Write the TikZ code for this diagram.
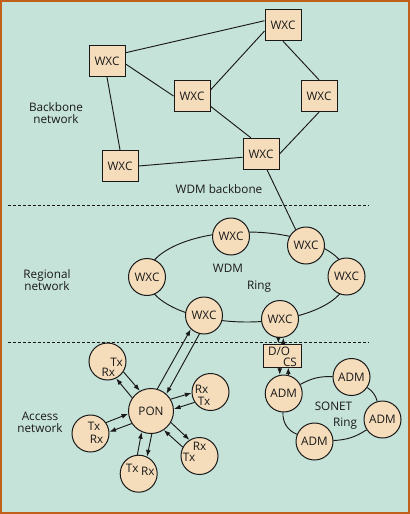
\documentclass[tikz,border=0pt]{standalone}
\usepackage{fontspec}
\setmainfont{Open Sans}
\usetikzlibrary{arrows.meta}
\definecolor{bgc}{RGB}{198,227,217}
\definecolor{nodefill}{RGB}{245,221,187}
\definecolor{framec}{RGB}{192,96,26}
\definecolor{ink}{RGB}{25,25,25}
\begin{document}
\begin{tikzpicture}[x=0.75pt,y=-0.75pt,
  every node/.style={font=\fontsize{8.8pt}{9pt}\selectfont, text=ink},
  wxcbox/.style={draw=ink, line width=0.75pt, fill=nodefill, rectangle, minimum width=27pt, minimum height=23.5pt, inner sep=0pt},
  nodeball/.style={draw=ink, line width=0.75pt, fill=nodefill, circle, minimum size=27.75pt, inner sep=0pt},
  ponball/.style={nodeball, minimum size=33.75pt},
  dobox/.style={draw=ink, line width=0.75pt, fill=nodefill, rectangle, minimum width=28.5pt, minimum height=17.25pt, inner sep=0pt},
  link/.style={draw=ink, line width=0.7pt},
  arr/.style={link, -{Latex[length=5pt,width=3.6pt]}},
  dashsep/.style={draw=ink, line width=0.7pt, dash pattern=on 2.2pt off 1.5pt},
  lbltext/.style={align=center, inner sep=0pt}
]
\useasboundingbox (0,0) rectangle (410,514);
\draw[fill=bgc, draw=framec, line width=1.5pt] (1,1) rectangle (409,513);

% separators
\draw[dashsep] (8,205) -- (369,205);
\draw[dashsep] (8,342) -- (369,342);

% WDM ring
\coordinate (wdmc) at (247,277);
\draw[link] (wdmc) ellipse [x radius=100, y radius=45];

% backbone
\node[wxcbox] (b1) at (107,61) {WXC};
\node[wxcbox] (b2) at (283,25) {WXC};
\node[wxcbox] (b3) at (192,96) {WXC};
\node[wxcbox] (b4) at (319,96) {WXC};
\node[wxcbox] (b5) at (120,166) {WXC};
\node[wxcbox] (b6) at (261,154) {WXC};

% regional
\node[nodeball] (r1) at (147,277) {WXC};
\node[nodeball] (r2) at (231,236.5) {WXC};
\node[nodeball] (r3) at (306,245.5) {WXC};
\node[nodeball] (r4) at (346.5,276.5) {WXC};
\node[nodeball] (r5) at (280,319) {WXC};
\node[nodeball] (r6) at (204,315.5) {WXC};

% access
\node[ponball] (pon) at (151,411) {PON};
\node[nodeball, label={[shift={(9,0.5)}]center:Tx}, label={[shift={(0.8,10.5)}]center:Rx}] (tl) at (107.5,361.5) {};
\node[nodeball, label={[shift={(3.5,-7.5)}]center:Tx}, label={[shift={(6,5.5)}]center:Rx}] (lf) at (90.5,433.5) {};
\node[nodeball, label={[shift={(-6.5,-5.5)}]center:Tx}, label={[shift={(9,-2.5)}]center:Rx}] (bt) at (138.7,473.7) {};
\node[nodeball, label={[shift={(-9,-3)}]center:Rx}, label={[shift={(-6.5,9)}]center:Tx}] (ru) at (210.5,392) {};
\node[nodeball, label={[shift={(0,-10)}]center:Rx}, label={[shift={(-10.5,1)}]center:Tx}] (rl) at (199.5,456) {};

% SONET
\node[dobox, label={[shift={(-3.5,-4)}]center:D/O}, label={[shift={(7.5,7)}]center:CS}] (do) at (282.5,355.5) {};
\node[nodeball] (a1) at (283.7,393.5) {ADM};
\node[nodeball] (a2) at (351.5,377) {ADM};
\node[nodeball] (a3) at (382.5,419.5) {ADM};
\node[nodeball] (a4) at (314.5,441.5) {ADM};

% labels
\node[lbltext] (t1) at (56,113) {Backbone\\network};
\node[lbltext] (t2) at (219,189) {WDM backbone};
\node[lbltext] (t3) at (47,280) {Regional\\network};
\node[lbltext] (t4) at (228,268) {WDM};
\node[lbltext] (t5) at (259,287) {Ring};
\node[lbltext] (t6) at (40,422) {Access\\network};
\node[lbltext] (t7) at (333.5,406) {SONET};
\node[lbltext] (t8) at (345,424) {Ring};

% backbone links
\draw[link] (b1.24) -- (b2.167);
\draw[link] (b1.351) -- (b3.west);
\draw[link] (b1.south) -- (b5.north);
\draw[link] (b2.198) -- (b3.18);
\draw[link] (b2.south) -- (b4.north);
\draw[link] (b3.331) -- (b6.122);
\draw[link] (b4.south) -- (b6.east);
\draw[link] (b5.east) -- (b6.190);
\draw[link] (b6.291) -- (r3.123);

% PON pairs
\draw[arr] (pon.145) -- (tl.297);
\draw[arr] (tl.327) -- (pon.119);
\draw[arr] (pon.213) -- (lf.5);
\draw[arr] (lf.35) -- (pon.187);
\draw[arr] (pon.272) -- (bt.64);
\draw[arr] (bt.94) -- (pon.246);
\draw[arr] (pon.31) -- (ru.183);
\draw[arr] (ru.213) -- (pon.5);
\draw[arr] (pon.330) -- (rl.122);
\draw[arr] (rl.152) -- (pon.304);
\draw[arr] (pon.74) -- (r6.226);
\draw[arr] (r6.256) -- (pon.48);

% D/O CS arrows
\draw[arr] (r5.265) -- (do.north -| r5.265);
\draw[arr] (do.north -| r5.280) -- (r5.280);
\draw[arr] (do.south -| a1.102) -- (a1.102);
\draw[arr] (a1.76) -- (do.south -| a1.76);

% SONET ring
\draw[link] (a1) to[bend left=15] (a2);
\draw[link] (a2) to[bend left=20] (a3);
\draw[link] (a3) to[bend left=15] (a4);
\draw[link] (a4) to[bend left=35] (a1);
\end{tikzpicture}
\end{document}
